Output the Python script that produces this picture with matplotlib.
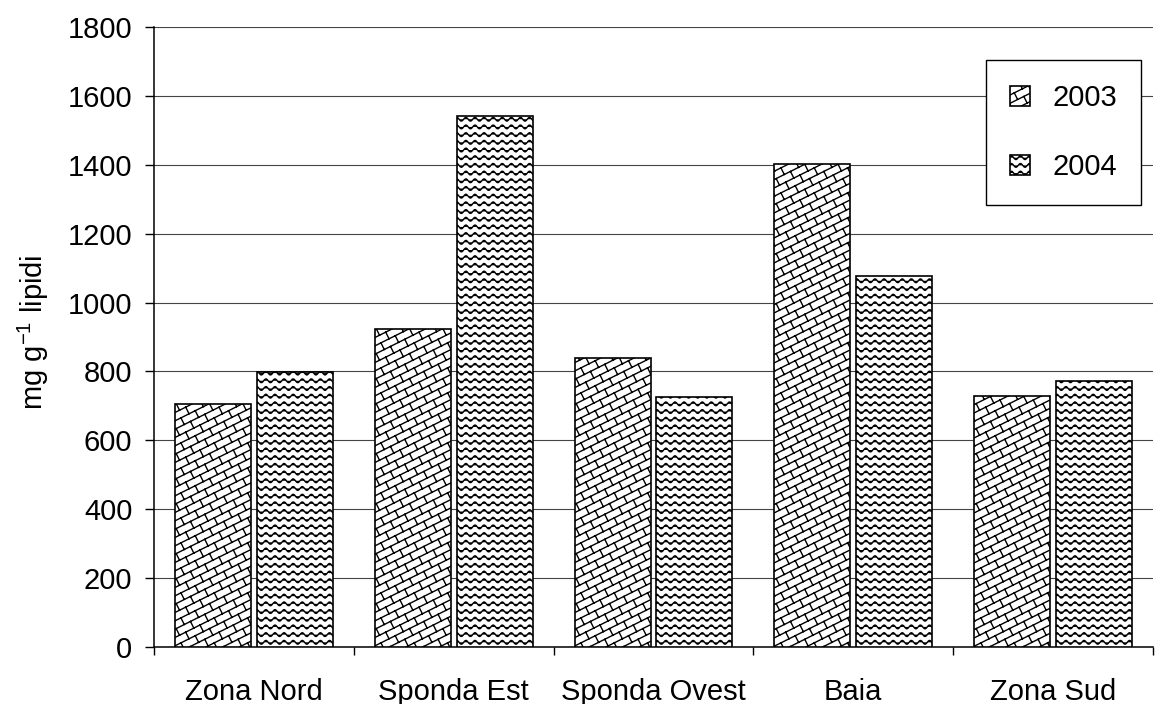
import warnings
import numpy as np
import matplotlib
matplotlib.use("Agg")
import matplotlib.pyplot as plt
import matplotlib.hatch as mhatch
from matplotlib.path import Path

warnings.filterwarnings("ignore")

categories = ["Zona Nord", "Sponda Est", "Sponda Ovest", "Baia", "Zona Sud"]
years = ["2003", "2004"]
values_2003 = [705, 923, 839, 1402, 729]
values_2004 = [798, 1542, 726, 1077, 772]
yticks = [0, 200, 400, 600, 800, 1000, 1200, 1400, 1600, 1800]


class WaveHatch(mhatch.HatchPatternBase):
    # rows of small sine waves, tiled over the unit hatch cell
    rows = 13
    periods = 11
    pts = 111

    def __init__(self, hatch, density):
        self.on = hatch.count('w') > 0
        self.num_vertices = self.rows * self.pts if self.on else 0

    def set_vertices_and_codes(self, vertices, codes):
        x = np.linspace(0.0, 1.0, self.pts)
        amp = 0.019
        for i in range(self.rows):
            y0 = (i + 0.5) / self.rows
            sl = slice(i * self.pts, (i + 1) * self.pts)
            vertices[sl, 0] = x
            vertices[sl, 1] = y0 + amp * np.sin(2 * np.pi * self.periods * x)
            codes[sl] = Path.LINETO
            codes[i * self.pts] = Path.MOVETO


class BrickHatch(mhatch.HatchPatternBase):
    # diagonal bricks: lines x - 2y = c with short staggered cross joints
    n = 6
    per = 14

    def __init__(self, hatch, density):
        self.on = hatch.count('b') > 0
        nlines = 3 * self.n + 1
        self.nlines = nlines
        self.num_vertices = (nlines * 2 + nlines * (self.per + 1) * 2) if self.on else 0

    def set_vertices_and_codes(self, vertices, codes):
        n = self.n
        d = 1.0 / (5 * n)
        cur = 0
        for k in range(-2 * n, n + 1):
            c = k / n
            vertices[cur] = (c + 2 * (-0.02), -0.02)
            vertices[cur + 1] = (c + 2 * 1.02, 1.02)
            codes[cur] = Path.MOVETO
            codes[cur + 1] = Path.LINETO
            cur += 2
            off = 0.5 * (k % 2)
            for j in range(self.per + 1):
                t = (j + off) / self.per
                vertices[cur] = (c + 2 * t, t)
                vertices[cur + 1] = (c + 2 * t + d, t - 2 * d)
                codes[cur] = Path.MOVETO
                codes[cur + 1] = Path.LINETO
                cur += 2


mhatch._hatch_types.append(WaveHatch)
mhatch._hatch_types.append(BrickHatch)

plt.rcParams['font.family'] = ['Liberation Sans', 'DejaVu Sans']
plt.rcParams['mathtext.fontset'] = 'custom'
plt.rcParams['mathtext.rm'] = 'Liberation Sans'
plt.rcParams['hatch.linewidth'] = 1.0
plt.rcParams['hatch.color'] = '#303030'

fig = plt.figure(figsize=(11.65, 7.04), dpi=100)
ax = fig.add_axes([154 / 1165, 1 - 647 / 704, 999 / 1165, 620 / 704])

x = np.arange(len(categories))
w = 0.38
ax.bar(x - 0.205, values_2003, w, color='white', edgecolor='black',
       linewidth=1.2, hatch='b', label=years[0], zorder=3)
ax.bar(x + 0.205, values_2004, w, color='white', edgecolor='black',
       linewidth=1.2, hatch='w', label=years[1], zorder=3)

ax.set_xlim(-0.5, len(categories) - 0.5)
ax.set_ylim(0, 1800)
ax.set_yticks(yticks)
ax.yaxis.grid(True, color='#444444', linewidth=0.8)
ax.set_axisbelow(True)

ax.set_xticks(np.arange(len(categories) + 1) - 0.5)
ax.set_xticklabels([])
ax.set_xticks(x, minor=True)
ax.set_xticklabels(categories, minor=True, fontsize=21)
ax.tick_params(axis='x', which='minor', length=0, pad=22)
ax.tick_params(axis='x', which='major', length=6, width=1, direction='out')
ax.tick_params(axis='y', length=6.5, width=1, direction='out', labelsize=21, pad=9)

for s in ['top', 'right']:
    ax.spines[s].set_visible(False)
for s in ['left', 'bottom']:
    ax.spines[s].set_linewidth(1.1)

fig.text(33 / 1165, 1 - 332 / 704, 'mg g$^{\\mathrm{-1}}$ lipidi', rotation=90,
         ha='center', va='center', fontsize=21)

leg = ax.legend(loc='upper left', bbox_to_anchor=(986 / 1165, 1 - 60 / 704),
                bbox_transform=fig.transFigure, borderaxespad=0, fontsize=21,
                handlelength=0.68, handleheight=0.68, handletextpad=0.78,
                borderpad=0.82, labelspacing=1.42, fancybox=False,
                framealpha=1, edgecolor='black')
leg.get_frame().set_linewidth(1.0)

fig.savefig('out.png', dpi=100)
